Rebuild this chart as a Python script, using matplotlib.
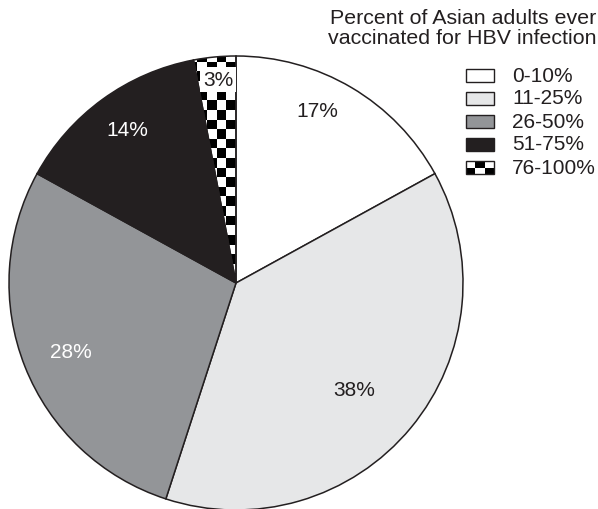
import numpy as np
import matplotlib
matplotlib.use("Agg")
import matplotlib.pyplot as plt
from matplotlib.patches import Rectangle

plt.rcParams['font.family'] = ['Liberation Sans', 'DejaVu Sans']

# data
pct = [17, 38, 28, 14, 3]
labels = ['17%', '38%', '28%', '14%', '3%']
legend_labels = ['0-10%', '11-25%', '26-50%', '51-75%', '76-100%']
title = 'Percent of Asian adults ever\nvaccinated for HBV infection'

colors = ['#ffffff', '#e6e7e8', '#939598', '#231f20', '#ffffff']
text_colors = ['#231f20', '#231f20', '#ffffff', '#ffffff', '#231f20']
label_r = [0.84, 0.70, 0.79, 0.83, 0.90]
label_shift = [5.4, -2.6, 1.0, -0.7, -0.4]

W, H = 598, 510
fig = plt.figure(figsize=(W / 100, H / 100), dpi=100)
ax = fig.add_axes([0, 0, 1, 1])

cx, cy, R = 236, H - 284, 227

wedges, _ = ax.pie(pct, colors=colors, startangle=90, counterclock=False,
                   center=(cx, cy), radius=R, frame=True,
                   wedgeprops=dict(edgecolor='#231f20', linewidth=1.1))


def checker(n_rows, n_cols):
    yy, xx = np.mgrid[0:n_rows, 0:n_cols]
    return ((xx + yy) % 2).astype(float)


# checkerboard fill for the last wedge
sq = 9.6
nx, ny = 6, 26
ext = (cx - nx * sq, cx, cy, cy + ny * sq)
im = ax.imshow(checker(ny, nx), cmap='gray_r', extent=ext, origin='lower',
               interpolation='nearest', zorder=wedges[-1].get_zorder() - 0.01)
im.set_clip_path(wedges[-1])
wedges[-1].set_facecolor('none')

# wedge labels
for w, lab, r, sh, tc in zip(wedges, labels, label_r, label_shift, text_colors):
    ang = np.deg2rad((w.theta1 + w.theta2) / 2 + sh)
    x = cx + r * R * np.cos(ang)
    y = cy + r * R * np.sin(ang)
    bbox = None
    if lab == '3%':
        bbox = dict(facecolor='white', edgecolor='none', pad=2.0)
    ax.text(x, y, lab, ha='center', va='center', fontsize=15, color=tc,
            bbox=bbox, zorder=5)

# legend
ax.text(596, H - 9, title, ha='right', va='top', fontsize=15.4,
        color='#231f20', linespacing=1.1)
ly0, dy = H - 76, 23
bw, bh = 28, 13
for i, lab in enumerate(legend_labels):
    y = ly0 - i * dy
    if i == len(legend_labels) - 1:
        ax.imshow(1 - checker(2, 3), cmap='gray_r', origin='lower',
                  extent=(466, 466 + bw, y - bh / 2, y + bh / 2),
                  interpolation='nearest', zorder=3)
        ax.add_patch(Rectangle((466, y - bh / 2), bw, bh, facecolor='none',
                               edgecolor='#231f20', linewidth=1.0, zorder=4))
    else:
        ax.add_patch(Rectangle((466, y - bh / 2), bw, bh,
                               facecolor=colors[i], edgecolor='#231f20',
                               linewidth=1.0, zorder=3))
    ax.text(512, y, lab, ha='left', va='center', fontsize=15, color='#231f20')

ax.set_aspect('auto')
ax.set_xlim(0, W)
ax.set_ylim(0, H)
ax.axis('off')
fig.savefig('out.png', dpi=100)
